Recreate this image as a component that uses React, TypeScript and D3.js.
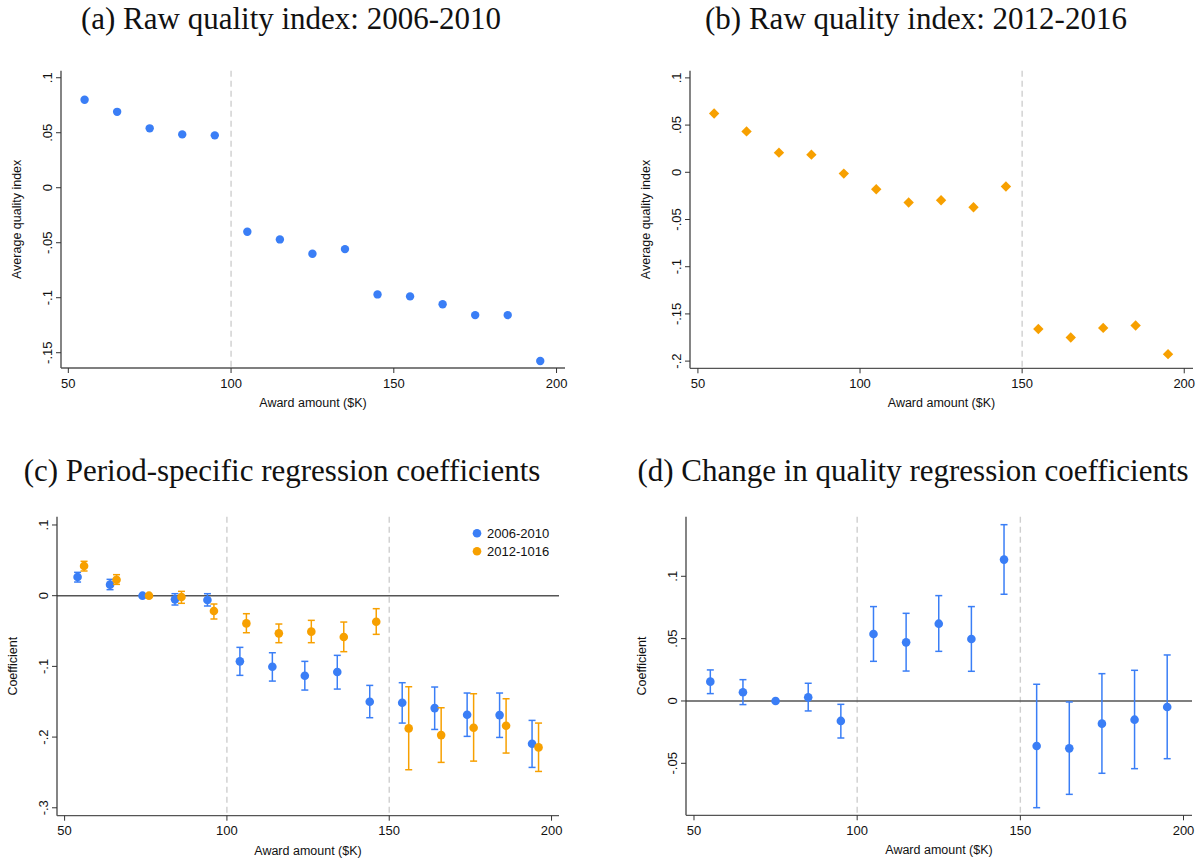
import React from 'react';
import * as d3 from 'd3';

// award bins ($K), one per 10K bucket
const awardBins = [55, 65, 75, 85, 95, 105, 115, 125, 135, 145, 155, 165, 175, 185, 195];

// (a) raw quality index, 2006-2010
const rawIndex0610 = [0.080, 0.069, 0.054, 0.0485, 0.0476, -0.040, -0.047, -0.060, -0.0558, -0.097, -0.0988, -0.106, -0.1158, -0.1158, -0.1576];
// (b) raw quality index, 2012-2016
const rawIndex1216 = [0.0623, 0.0433, 0.0208, 0.0187, -0.0014, -0.018, -0.032, -0.0296, -0.037, -0.0151, -0.166, -0.175, -0.1648, -0.1623, -0.1926];

// (c) period-specific coefficients with 95% CI
const coef0610 = [0.0264, 0.0156, 0, -0.0052, -0.0061, -0.0929, -0.1005, -0.1132, -0.108, -0.150, -0.1514, -0.159, -0.1684, -0.1689, -0.2094];
const coef0610Lo = [0.0193, 0.0085, 0, -0.0132, -0.0146, -0.1127, -0.1208, -0.1335, -0.1321, -0.1726, -0.1802, -0.1892, -0.199, -0.2005, -0.2429];
const coef0610Hi = [0.033, 0.0231, 0, 0.0028, 0.0028, -0.0731, -0.0807, -0.0929, -0.0844, -0.1269, -0.1231, -0.1292, -0.1377, -0.1377, -0.1764];
const coef1216 = [0.042, 0.0226, 0, -0.0019, -0.0217, -0.0392, -0.0533, -0.0509, -0.0585, -0.0368, -0.1877, -0.1972, -0.1868, -0.184, -0.2146];
const coef1216Lo = [0.0349, 0.016, 0, -0.0108, -0.033, -0.0524, -0.0665, -0.0665, -0.0792, -0.0547, -0.2462, -0.2358, -0.234, -0.2226, -0.2486];
const coef1216Hi = [0.0486, 0.0297, 0, 0.0061, -0.0118, -0.0255, -0.0401, -0.0349, -0.0373, -0.0184, -0.1288, -0.1585, -0.1387, -0.1458, -0.1802];

// (d) change in coefficients with 95% CI
const diffCoef = [0.0155, 0.007, 0, 0.0029, -0.016, 0.0537, 0.047, 0.062, 0.0497, 0.1134, -0.0361, -0.038, -0.0182, -0.015, -0.0048];
const diffLo = [0.0059, -0.0029, 0, -0.008, -0.0297, 0.0318, 0.024, 0.0398, 0.0238, 0.0856, -0.0856, -0.0749, -0.058, -0.0543, -0.0463];
const diffHi = [0.0249, 0.0171, 0, 0.0142, -0.0027, 0.0757, 0.0703, 0.0845, 0.0757, 0.1414, 0.0134, -0.0008, 0.0219, 0.0246, 0.0369];

const xTicks = [50, 100, 150, 200];
const yTicksA = [0.1, 0.05, 0, -0.05, -0.1, -0.15];
const yTicksB = [0.1, 0.05, 0, -0.05, -0.1, -0.15, -0.2];
const yTicksC = [0.1, 0, -0.1, -0.2, -0.3];
const yTicksD = [0.1, 0.05, 0, -0.05];
const legendLabels = ['2006-2010', '2012-1016'];

const BLUE = '#3a7ef6';
const ORANGE = '#f7a000';
const SANS = '"Liberation Sans", Arial, Helvetica, sans-serif';
const SERIF = '"Liberation Serif", "Times New Roman", serif';

const fmt = (v: number) => (v === 0 ? '0' : String(+v.toFixed(2)).replace('0.', '.'));

type Layout = {
  left: number; right: number; top: number; bottom: number;
  xDom: [number, number]; yDom: [number, number];
  title: string; titleX: number; titleY: number;
  yLabel: string; yTicks: number[]; cutoffs: number[]; zeroLine?: boolean;
};

function Frame({ L, children }: { L: Layout; children: (x: any, y: any) => React.ReactNode }) {
  const x = d3.scaleLinear().domain(L.xDom).range([L.left, L.right]);
  const y = d3.scaleLinear().domain(L.yDom).range([L.bottom, L.top]);
  const midX = (L.left + L.right) / 2;
  const midY = (L.top + L.bottom) / 2;
  return (
    <g>
      <text x={L.titleX} y={L.titleY} textAnchor="middle" fontFamily={SERIF} fontSize={31} fill="#111">{L.title}</text>
      {L.cutoffs.map(c => (
        <line key={c} x1={x(c)} x2={x(c)} y1={L.top} y2={L.bottom} stroke="#cfcfcf" strokeWidth={1.4} strokeDasharray="6,4" />
      ))}
      {L.zeroLine && <line x1={L.left} x2={L.right} y1={y(0)} y2={y(0)} stroke="#555" strokeWidth={1.5} />}
      {children(x, y)}
      <line x1={L.left} x2={L.left} y1={L.top} y2={L.bottom} stroke="#333" strokeWidth={1.2} />
      <line x1={L.left} x2={L.right} y1={L.bottom} y2={L.bottom} stroke="#555" strokeWidth={1.3} />
      {xTicks.map(t => (
        <g key={t}>
          <line x1={x(t)} x2={x(t)} y1={L.bottom} y2={L.bottom + 5} stroke="#333" strokeWidth={1} />
          <text x={x(t)} y={L.bottom + 15} textAnchor="middle" dominantBaseline="central" fontFamily={SANS} fontSize={13} fill="#111">{t}</text>
        </g>
      ))}
      {L.yTicks.map(t => (
        <g key={t}>
          <line x1={L.left - 5} x2={L.left} y1={y(t)} y2={y(t)} stroke="#333" strokeWidth={1} />
          <text transform={`translate(${L.left - 13.5},${y(t)}) rotate(-90)`} textAnchor="middle" dominantBaseline="central" fontFamily={SANS} fontSize={13} fill="#111">{fmt(t)}</text>
        </g>
      ))}
      <text x={midX} y={L.bottom + 35} textAnchor="middle" dominantBaseline="central" fontFamily={SANS} fontSize={12.5} fill="#111">Award amount ($K)</text>
      <text transform={`translate(${L.left - 44},${midY}) rotate(-90)`} textAnchor="middle" dominantBaseline="central" fontFamily={SANS} fontSize={12.5} fill="#111">{L.yLabel}</text>
    </g>
  );
}

function ErrorBars({ x, y, xs, mid, lo, hi, color }: any) {
  return (
    <g>
      {xs.map((xv: number, i: number) => (
        <g key={i}>
          <line x1={x(xv)} x2={x(xv)} y1={y(lo[i])} y2={y(hi[i])} stroke={color} strokeWidth={1.5} />
          <line x1={x(xv) - 3.5} x2={x(xv) + 3.5} y1={y(lo[i])} y2={y(lo[i])} stroke={color} strokeWidth={1.5} />
          <line x1={x(xv) - 3.5} x2={x(xv) + 3.5} y1={y(hi[i])} y2={y(hi[i])} stroke={color} strokeWidth={1.5} />
          <circle cx={x(xv)} cy={y(mid[i])} r={4.3} fill={color} />
        </g>
      ))}
    </g>
  );
}

const layoutA: Layout = {
  left: 61, right: 565, top: 70.7, bottom: 368, xDom: [47.75, 202.6], yDom: [-0.1639, 0.1064],
  title: '(a) Raw quality index: 2006-2010', titleX: 291, titleY: 29,
  yLabel: 'Average quality index', yTicks: yTicksA, cutoffs: [100],
};
const layoutB: Layout = {
  left: 690, right: 1193, top: 70.7, bottom: 368.3, xDom: [47.56, 202.7], yDom: [-0.2076, 0.1076],
  title: '(b) Raw quality index: 2012-2016', titleX: 916, titleY: 29,
  yLabel: 'Average quality index', yTicks: yTicksB, cutoffs: [150],
};
const layoutC: Layout = {
  left: 57, right: 559, top: 516.7, bottom: 815.7, xDom: [47.66, 202.3], yDom: [-0.3112, 0.1117],
  title: '(c) Period-specific regression coefficients', titleX: 282, titleY: 481,
  yLabel: 'Coefficient', yTicks: yTicksC, cutoffs: [100, 150], zeroLine: true,
};
const layoutD: Layout = {
  left: 686, right: 1192, top: 516.7, bottom: 815.3, xDom: [47.55, 202.6], yDom: [-0.0917, 0.1478],
  title: '(d) Change in quality regression coefficients', titleX: 913, titleY: 481,
  yLabel: 'Coefficient', yTicks: yTicksD, cutoffs: [100, 150], zeroLine: true,
};

const diamond = d3.symbol().type(d3.symbolSquare).size(54)() as string;

export default function App() {
  return (
    <svg width={1204} height={861} style={{ position: 'absolute', left: 0, top: 0, background: '#fff' }}>
      <rect width={1204} height={861} fill="#fff" />
      <Frame L={layoutA}>
        {(x, y) => awardBins.map((b, i) => <circle key={b} cx={x(b)} cy={y(rawIndex0610[i])} r={4.2} fill={BLUE} />)}
      </Frame>
      <Frame L={layoutB}>
        {(x, y) => awardBins.map((b, i) => (
          <path key={b} d={diamond} transform={`translate(${x(b)},${y(rawIndex1216[i])}) rotate(45)`} fill={ORANGE} />
        ))}
      </Frame>
      <Frame L={layoutC}>
        {(x, y) => (
          <g>
            <ErrorBars x={x} y={y} xs={awardBins.map(b => b - 1)} mid={coef0610} lo={coef0610Lo} hi={coef0610Hi} color={BLUE} />
            <ErrorBars x={x} y={y} xs={awardBins.map(b => b + 1)} mid={coef1216} lo={coef1216Lo} hi={coef1216Hi} color={ORANGE} />
            {legendLabels.map((lab, i) => (
              <g key={lab} transform={`translate(477,${533.3 + i * 18})`}>
                <circle r={4.3} fill={i === 0 ? BLUE : ORANGE} />
                <text x={10} dominantBaseline="central" fontFamily={SANS} fontSize={13} fill="#111">{lab}</text>
              </g>
            ))}
          </g>
        )}
      </Frame>
      <Frame L={layoutD}>
        {(x, y) => <ErrorBars x={x} y={y} xs={awardBins} mid={diffCoef} lo={diffLo} hi={diffHi} color={BLUE} />}
      </Frame>
    </svg>
  );
}
